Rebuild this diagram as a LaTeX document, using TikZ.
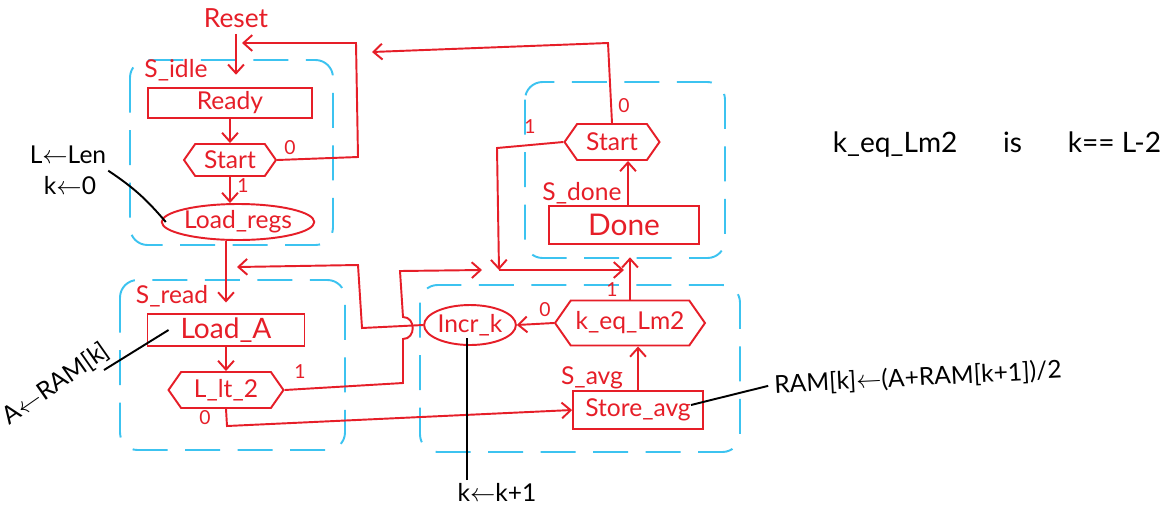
\documentclass[tikz,border=0pt]{standalone}
\usepackage{fontspec}
\setmainfont{Lato}
\usetikzlibrary{arrows.meta,shapes.geometric,shapes.symbols}
\definecolor{hred}{RGB}{230,30,40}
\definecolor{hblue}{RGB}{60,195,240}
\begin{document}
\begin{tikzpicture}[x=0.02cm,y=-0.02cm,
 every node/.style={font=\fontsize{14}{16}\selectfont},
 lbl/.style={text=hred},
 bit/.style={text=hred,font=\fontsize{11}{13}\selectfont},
 stbox/.style={draw=hred, line width=1.1pt, rectangle, text=hred, inner sep=0pt},
 cond/.style={draw=hred, line width=1.1pt, signal, signal to=west and east, signal pointer angle=110, text=hred, inner sep=0pt},
 mealy/.style={draw=hred, line width=1.1pt, ellipse, text=hred, inner sep=0pt},
 sbox/.style={draw=hblue, line width=1.1pt, dash pattern=on 0.7cm off 0.35cm, rounded corners=10pt},
 wire/.style={draw=hred, line width=1.1pt},
 arr/.style={wire, -{Straight Barb[length=5pt,width=9pt]}},
 note/.style={text=black},
 noteline/.style={draw=black, line width=1.1pt},
]
\fill[white] (0,0) rectangle (1166,508);
\useasboundingbox (0,0) rectangle (1166,508);

% state boxes
\draw[sbox] (130,60) rectangle (333,245);
\draw[sbox] (120,280) rectangle (345,450);
\draw[sbox] (525,82) rectangle (725,258);
\draw[sbox] (420,285) rectangle (740,452);

% state labels
\node[lbl, font=\fontsize{15}{17}\selectfont] (reset) at (236,18) {Reset};
\node[lbl] (lidle) at (176,70) {S\_idle};
\node[lbl] (lread) at (172,296) {S\_read};
\node[lbl] (ldone) at (582,193) {S\_done};
\node[lbl] (lavg) at (592,378) {S\_avg};

% boxes
\node[stbox, minimum width=3.28cm, minimum height=0.6cm] (ready) at (230,103) {Ready};
\node[cond, minimum width=1.84cm, minimum height=0.64cm] (start1) at (230,160) {Start};
\node[mealy, minimum width=2.6cm, minimum height=0.72cm] (loadregs) at (238,222) {Load\_regs};
\node[stbox, minimum width=3.14cm, minimum height=0.64cm, font=\fontsize{16}{18}\selectfont] (loadA) at (226,330) {Load\_A};
\node[cond, minimum width=2.3cm, minimum height=0.72cm] (llt2) at (226,390) {L\_lt\_2};
\node[cond, minimum width=1.9cm, minimum height=0.72cm] (start2) at (612,142) {Start};
\node[stbox, minimum width=3cm, minimum height=0.76cm, font=\fontsize{17}{19}\selectfont] (done) at (624,225) {Done};
\node[mealy, minimum width=1.64cm, minimum height=0.8cm] (incrk) at (470,325) {Incr\_k};
\node[cond, minimum width=3.0cm, minimum height=0.9cm] (keq) at (630,323) {k\_eq\_Lm2};
\node[stbox, minimum width=2.6cm, minimum height=0.76cm] (storeavg) at (638,410) {Store\_avg};

% junctions
\coordinate (j1) at (499,270);

% connectors
\draw[arr, shorten >=7pt] (reset.south) -- (ready.north -| reset.south);
\draw[arr] (ready.south) -- (start1.north);
\draw[arr] (start1.south) -- (loadregs.north -| start1.south);
\node[bit] at (243,186) {1};
\draw[arr] (start1.east) -- (358,157) -- (356,43) -- (242,43);
\node[bit] at (290,148) {0};
\draw[arr, shorten >=6pt] (loadregs.south -| loadA.north) -- (loadA.north);
\draw[arr] (loadA.south) -- (llt2.north);
\draw[arr] (llt2.east) -- (403,383) -- (403,339) .. controls (416,339) and (416,317) .. (403,317) -- (400,271) -- (482,270);
\node[bit] at (300,372) {1};
\draw[arr] (llt2.south) -- (227,426) -- (storeavg.west);
\node[bit] at (205,418) {0};
\draw[arr] (incrk.west) -- (362,328) -- (358,265) -- (237,267);
\draw[arr] (start2.west) -- (497,148) -- (j1);
\node[bit] at (530,127) {1};
\draw[arr] (j1) -- (624,270);
\draw[arr, shorten >=7pt] (keq.north) -- (keq.north |- done.south);
\node[bit] at (612,290) {1};
\draw[arr] ([xshift=0.08cm]done.north) -- ([xshift=0.32cm]start2.south);
\draw[arr] (start2.north) -- (608,43) -- (372,52);
\node[bit] at (624,106) {0};
\draw[arr] (keq.west) -- (incrk.east);
\node[bit] at (545,310) {0};
\draw[arr] (storeavg.north) -- (storeavg.north |- keq.south);

% annotations
\node[note] (linit) at (68,155) {L$\leftarrow$Len};
\node[note] (kinit) at (70,186) {k$\leftarrow$0};
\draw[noteline] ([xshift=0.12cm]kinit.north east) to[bend left=8] ([xshift=0.1cm]loadregs.west);
\node[note, rotate=35] (aread) at (56,384) {A$\leftarrow$RAM[k]};
\coordinate (aline) at (104,370);
\draw[noteline] (aline) -- ([xshift=0.44cm]loadA.west);
\node[note, rotate=3] (ramexpr) at (918,378) {RAM[k]$\leftarrow$(A+RAM[k+1])/2};
\draw[noteline] (ramexpr.west) -- ([shift={(-0.26cm,0.1cm)}]storeavg.east);
\node[note] (kinc) at (497,492) {k$\leftarrow$k+1};
\draw[noteline] (467,480) -- (467,338);
\node[note, font=\fontsize{16}{18}\selectfont] (defn) at (997,145) {k\_eq\_Lm2\hspace{26pt}is\hspace{26pt}k== L-2};
\end{tikzpicture}
\end{document}
